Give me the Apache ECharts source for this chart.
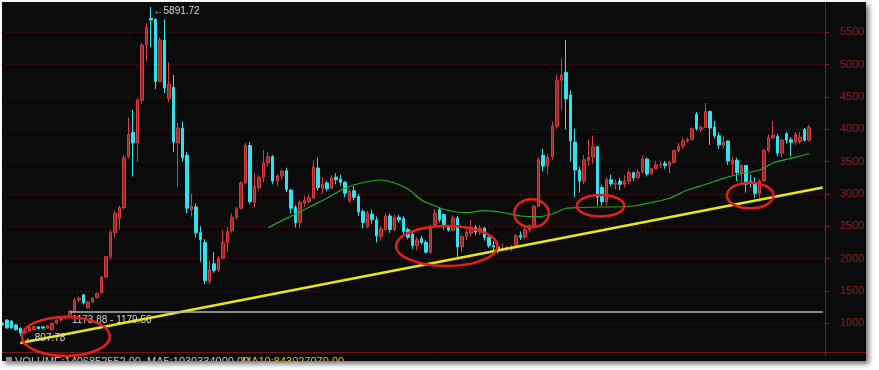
<!DOCTYPE html>
<html><head><meta charset="utf-8">
<script src="https://cdn.jsdelivr.net/npm/echarts@6.0.0/dist/echarts.min.js"></script>
<style>
html,body{margin:0;padding:0;background:#fff;width:879px;height:370px;overflow:hidden;}
#panel{position:absolute;left:2px;top:2px;width:864px;height:359px;overflow:hidden;background:#0b0b0b;box-shadow:3px 3px 5px rgba(0,0,0,0.55);}
#chart{position:absolute;left:-2px;top:-2px;width:879px;height:370px;}
</style></head><body>
<div id="panel"><div id="chart"></div></div>
<script>
// ---- data: monthly candles [open, close, low, high] ----
const ohlc2005 = [[1000,985,960,1015],[1050,930,915,1065],[1035,930,915,1045],[975,900,885,985],[925,850,807.78,935],[850,880,830,890],[880,935,870,945],[900,945,890,960],[945,915,900,955],[945,925,905,955],[925,960,915,975],[900,1000,890,1010]];
const ohlc2006 = [[1000,1050,990,1060],[1050,1080,1030,1095],[1080,1110,1060,1120],[1100,1190,1090,1200],[1180,1360,1160,1390],[1360,1390,1330,1410],[1440,1315,1290,1450],[1240,1330,1220,1340],[1330,1390,1310,1400],[1400,1460,1380,1470],[1470,1716,1460,1730],[1716,2030,1700,2045]];
const ohlc2007 = [[2030,2400,1990,2440],[2400,2700,2330,2740],[2620,2790,2450,2820],[2790,3560,2760,3600],[3580,3920,3550,4180],[3950,3790,3270,4300],[3790,4450,3500,4480],[4450,5300,4400,5340],[5300,5580,5060,5640],[5720,5690,5270,5891.72],[5700,4740,4620,5720],[4740,5380,4730,5420]];
const ohlc2008 = [[5380,4640,4560,5700],[4470,4700,4420,5040],[4650,3800,3650,4840],[3790,4020,3110,4100],[4020,3560,3500,4120],[3600,2780,2700,3650],[2760,2810,2650,3000],[2800,2400,2330,2850],[2400,2290,1950,2500],[2250,1660,1606,2300],[1650,1830,1600,1960],[1920,1817,1780,2100]];
const ohlc2009 = [[1820,2000,1790,2040],[2010,2250,1990,2440],[2250,2420,2100,2490],[2430,2640,2400,2700],[2640,2770,2600,2800],[2780,3170,2760,3200],[3170,3750,3150,3790],[3750,2880,2850,3806],[2870,3120,2790,3320],[3100,3260,3050,3290],[3260,3480,3180,3680],[3480,3575,3420,3650]];
const ohlc2010 = [[3580,3200,3150,3600],[3200,3280,3120,3300],[3280,3350,3230,3390],[3360,3070,3030,3400],[3060,2780,2700,3080],[2790,2560,2480,2830],[2560,2870,2470,2900],[2860,2900,2800,2970],[2880,2940,2850,2990],[2940,3420,2920,3520],[3400,3100,3050,3560],[3080,3150,3000,3260]];
const ohlc2011 = [[3170,3080,3040,3200],[3090,3250,3070,3290],[3260,3220,3150,3320],[3230,3180,3130,3300],[3180,3010,2950,3200],[2900,3040,2860,3080],[3050,2950,2900,3120],[2960,2720,2660,3000],[2730,2560,2470,2760],[2500,2700,2470,2740],[2690,2600,2540,2760],[2600,2350,2250,2650]];
const ohlc2012 = [[2340,2460,2280,2500],[2450,2660,2430,2700],[2660,2450,2400,2700],[2450,2630,2420,2680],[2640,2600,2560,2680],[2620,2420,2380,2660],[2450,2330,2300,2480],[2380,2200,2150,2410],[2200,2290,2130,2330],[2310,2250,2220,2350],[2250,2100,2080,2280],[2100,2480,2070,2520]];
const ohlc2013 = [[2520,2700,2490,2760],[2760,2600,2560,2790],[2680,2500,2450,2700],[2500,2440,2420,2520],[2440,2630,2420,2670],[2630,2180,2023,2660],[2180,2340,2100,2360],[2340,2410,2290,2440],[2390,2480,2340,2600],[2480,2410,2360,2520],[2410,2470,2370,2520],[2470,2330,2280,2490]];
const ohlc2014 = [[2330,2200,2170,2340],[2200,2180,2120,2270],[2180,2150,2080,2220],[2150,2160,2120,2230],[2160,2170,2120,2200],[2160,2170,2120,2210],[2170,2350,2160,2380],[2360,2330,2290,2420],[2330,2450,2310,2490],[2450,2510,2400,2530],[2510,2810,2490,2830],[2810,3530,2800,3570]];
const ohlc2015 = [[3600,3430,3350,3700],[3440,3570,3300,3620],[3570,4050,3530,4120],[4050,4750,4010,4850],[4760,4840,4300,5100],[4880,4470,4000,5380],[4530,3820,3500,4600],[3800,3370,2950,4010],[3370,3200,3020,3420],[3200,3530,3150,3600],[3520,3570,3430,3850],[3570,3730,3470,3900]];
const ohlc2016 = [[3730,2950,2820,3740],[3100,2880,2820,3140],[2880,3220,2820,3250],[3220,3160,3120,3300],[3150,3170,3070,3220],[3200,3150,3060,3250],[3150,3200,3100,3290],[3200,3330,3150,3380],[3330,3250,3200,3350],[3250,3340,3240,3380],[3340,3540,3320,3600],[3540,3310,3270,3560]];
const ohlc2017 = [[3310,3390,3300,3400],[3390,3450,3380,3510],[3450,3460,3400,3500],[3470,3440,3390,3510],[3440,3490,3320,3510],[3490,3670,3470,3680],[3670,3740,3640,3790],[3740,3820,3700,3870],[3820,3840,3790,3880],[3840,4010,3830,4030],[4230,4010,3980,4270],[4000,4030,3950,4060]];
const ohlc2018 = [[4030,4275,4020,4403],[4275,4020,3760,4290],[4030,3900,3860,4130],[3900,3760,3700,3950],[3750,3800,3700,3900],[3820,3510,3450,3830],[3460,3520,3290,3580],[3520,3330,3200,3560],[3330,3440,3180,3460],[3440,3150,3020,3450],[3200,3170,3100,3300],[3170,3010,2940,3260]];
const ohlc2019 = [[3010,3200,2935,3230],[3200,3670,3190,3700],[3670,3870,3640,3920],[3870,3910,3850,4127],[3890,3630,3580,3930],[3630,3830,3560,3850],[3930,3835,3780,3960],[3840,3800,3580,3880],[3800,3920,3760,3960],[3810,3880,3780,3960],[4000,3830,3810,4020],[3830,4030,3810,4070]];

// 60-month moving average: [monthIndex, value]
const ma60Points = [[59,2478],[62,2588],[65,2685],[68,2794],[72,2933],[76,3088],[80,3177],[84,3216],[87,3169],[90,3077],[93,2907],[96,2814],[99,2744],[103,2710],[107,2741],[111,2713],[115,2659],[119,2648],[122,2690],[125,2775],[128,2791],[132,2798],[136,2798],[140,2814],[144,2868],[148,2933],[152,3061],[156,3146],[160,3242],[164,3316],[168,3370],[171,3479],[174,3536],[177,3587],[179,3623]];
// yellow support trend line endpoints: [monthIndex, value]
const trendPoints = [[4,696],[182,3099]];
// gray gap line
const gapLevel = 1179.58;
const gapStartIndex = 15;
const gapText = '1173.88 - 1179.58';
// extremes
const highPoint = [33, 5891.72];
const lowPoint = [4, 807.78];
// red ellipses: centres [monthIndex, value]
const ringCenters = [[14.1,796],[98.6,2195],[117.4,2701],[132.7,2817],[165.9,2976]];
const ringRadii = [[44,19.5],[50.7,20],[17.3,14],[23.7,10.8],[23.3,12.8]];
const volumeText = 'VOLUME:1406852552.00  MA5:1030334000.00';
const volumeMa10Text = 'MA10:843027070.00';

// ---- build ----
const months = [];
for (let y = 2005; y <= 2019; y++) for (let m = 1; m <= 12; m++) months.push(y + '-' + String(m).padStart(2, '0'));
const emptyMonths = ['2020-01', '2020-02', '2020-03'];
const categories = months.concat(emptyMonths);
const candles = [].concat(ohlc2005, ohlc2006, ohlc2007, ohlc2008, ohlc2009, ohlc2010, ohlc2011, ohlc2012, ohlc2013, ohlc2014, ohlc2015, ohlc2016, ohlc2017, ohlc2018, ohlc2019);
const candleData = categories.map((c, i) => candles[i] ? candles[i] : '-');

function sparse(points) {
  const arr = categories.map(() => null);
  points.forEach(p => { arr[p[0]] = p[1]; });
  return arr;
}

const FONT = '"Liberation Sans", Arial, sans-serif';
const chart = echarts.init(document.getElementById('chart'), null, { renderer: 'canvas' });
chart.setOption({
  animation: false,
  backgroundColor: '#0b0b0b',
  grid: { left: 0, right: 54, top: 0, bottom: 14.4, outerBoundsMode: 'none', containLabel: false },
  xAxis: {
    type: 'category', data: categories, boundaryGap: true,
    axisLine: { show: false }, axisTick: { show: false }, axisLabel: { show: false }, splitLine: { show: false }
  },
  yAxis: {
    type: 'value', position: 'right', min: 500, max: 6000, interval: 500, scale: false,
    axisLine: { show: true, lineStyle: { color: '#8a1a1a', width: 1 } },
    axisTick: { show: true, length: 4, lineStyle: { color: '#8a1a1a' } },
    axisLabel: { color: '#a01818', fontSize: 11, fontFamily: FONT, margin: 15, align: 'left', showMinLabel: false, showMaxLabel: false, formatter: v => String(v) },
    splitLine: { show: true, showMinLine: false, showMaxLine: false, lineStyle: { color: '#4a1212', type: [2, 2], width: 1 } }
  },
  series: [
    {
      name: 'K', type: 'candlestick', data: candleData, barWidth: 3,
      itemStyle: { color: '#9a2626', color0: '#2ee2f0', borderColor: '#d83c3c', borderColor0: '#2ee2f0', borderWidth: 1 },
      markLine: {
        silent: true, symbol: ['none', 'none'],
        lineStyle: { color: '#b4b4b4', width: 1.5, type: 'solid' },
        label: { show: false },
        data: [[{ coord: [gapStartIndex, gapLevel] }, { coord: [categories.length - 1, gapLevel] }]]
      },
      markPoint: {
        silent: true, symbol: 'rect', symbolSize: 1, itemStyle: { color: 'rgba(0,0,0,0)' },
        label: { show: true, position: 'right', distance: 1, color: '#d4d4d4', fontSize: 10, fontFamily: FONT },
        data: [
          { coord: highPoint, label: { formatter: '\u2190' + highPoint[1].toFixed(2), offset: [1, 4] } },
          { coord: lowPoint, label: { formatter: '\u2190' + lowPoint[1].toFixed(2), offset: [3, 2.5] } }
        ]
      }
    },
    {
      name: 'MA60', type: 'line', data: sparse(ma60Points), connectNulls: true, smooth: 0.3,
      showSymbol: false, symbol: 'none', lineStyle: { color: '#22aa22', width: 1.2 }, z: 3
    },
    {
      name: 'Trend', type: 'line', data: sparse(trendPoints), connectNulls: true,
      showSymbol: false, symbol: 'none', lineStyle: { color: '#e6e61c', width: 2.6 }, z: 4
    }
  ]
});

function toPx(idx, val) {
  const i0 = Math.floor(idx), f = idx - i0;
  const a = chart.convertToPixel({ xAxisIndex: 0, yAxisIndex: 0 }, [i0, val]);
  const b = chart.convertToPixel({ xAxisIndex: 0, yAxisIndex: 0 }, [i0 + 1, val]);
  return [a[0] + (b[0] - a[0]) * f, a[1]];
}

const g = [];
const gapPx = toPx(gapStartIndex, gapLevel);
g.push({ type: 'text', left: gapPx[0] + 2, top: gapPx[1] + 4, style: { text: gapText, fill: '#d0d0d0', font: '10px ' + FONT } });
const axisBottom = toPx(0, 545);
g.push({ type: 'line', shape: { x1: 0, y1: axisBottom[1], x2: 879, y2: axisBottom[1] }, style: { stroke: '#8a1a1a', lineWidth: 1 } });
g.push({ type: 'rect', shape: { x: 6, y: 357, width: 6, height: 6 }, style: { fill: '#8a8a8a' } });
g.push({ type: 'text', left: 15, top: 356, style: { text: volumeText, fill: '#c4c4c4', font: '11px ' + FONT } });
g.push({ type: 'text', left: 242, top: 356, style: { text: volumeMa10Text, fill: '#c8c81a', font: '11px ' + FONT } });
ringCenters.forEach((c, k) => {
  const p = toPx(c[0], c[1]);
  g.push({ type: 'ellipse', shape: { cx: p[0], cy: p[1], rx: ringRadii[k][0], ry: ringRadii[k][1] }, style: { fill: 'none', stroke: '#e2201c', lineWidth: 2.5 }, z: 100 });
});
chart.setOption({ graphic: g });
</script></body></html>
